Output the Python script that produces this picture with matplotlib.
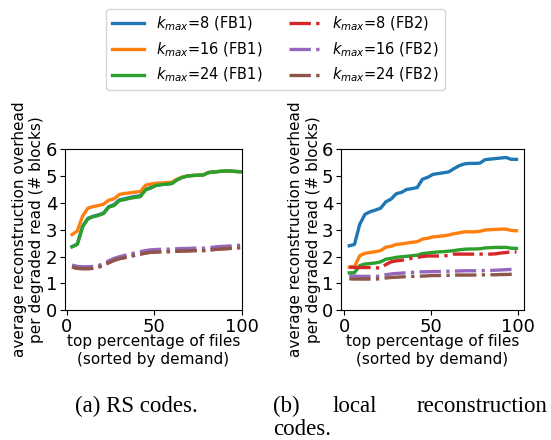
import matplotlib
matplotlib.use("Agg")
import matplotlib.pyplot as plt

# top percentage of files (sorted by demand)
pct = [3, 6, 9, 12, 15, 18, 21, 24, 27, 30, 33, 36, 39, 42, 45, 48, 51,
       54, 57, 60, 63, 66, 69, 72, 75, 78, 81, 84, 87, 90, 93, 96, 99]

labels = [r"$k_{max}$=8 (FB1)", r"$k_{max}$=16 (FB1)", r"$k_{max}$=24 (FB1)",
          r"$k_{max}$=8 (FB2)", r"$k_{max}$=16 (FB2)", r"$k_{max}$=24 (FB2)"]

# (a) RS codes
rs_fb1_k8 = [2.37, 2.46, 3.12, 3.42, 3.50, 3.55, 3.62, 3.86, 3.93, 4.11, 4.15, 4.20, 4.24, 4.26, 4.50, 4.57, 4.66,
             4.68, 4.70, 4.72, 4.86, 4.95, 5.00, 5.02, 5.03, 5.04, 5.13, 5.15, 5.17, 5.18, 5.19, 5.17, 5.16]
rs_fb1_k16 = [2.82, 2.95, 3.50, 3.80, 3.86, 3.90, 3.95, 4.10, 4.15, 4.31, 4.35, 4.37, 4.40, 4.42, 4.66, 4.70, 4.73,
              4.74, 4.75, 4.77, 4.88, 4.96, 5.00, 5.02, 5.03, 5.04, 5.13, 5.15, 5.17, 5.18, 5.19, 5.17, 5.16]
rs_fb1_k24 = [2.36, 2.45, 3.10, 3.40, 3.48, 3.53, 3.60, 3.84, 3.90, 4.08, 4.12, 4.17, 4.20, 4.23, 4.48, 4.55, 4.65,
              4.68, 4.70, 4.72, 4.86, 4.95, 5.00, 5.02, 5.03, 5.04, 5.13, 5.15, 5.17, 5.18, 5.19, 5.17, 5.16]
rs_fb2_k8 = [1.61, 1.56, 1.55, 1.55, 1.56, 1.60, 1.68, 1.77, 1.86, 1.92, 1.96, 2.00, 2.05, 2.09, 2.13, 2.16, 2.17,
             2.18, 2.18, 2.19, 2.20, 2.21, 2.21, 2.22, 2.22, 2.22, 2.24, 2.26, 2.28, 2.29, 2.30, 2.32, 2.33]
rs_fb2_k16 = [1.68, 1.63, 1.62, 1.62, 1.63, 1.66, 1.74, 1.84, 1.93, 1.99, 2.04, 2.09, 2.14, 2.18, 2.22, 2.25, 2.26,
              2.27, 2.27, 2.28, 2.29, 2.30, 2.30, 2.31, 2.31, 2.31, 2.33, 2.35, 2.37, 2.38, 2.39, 2.41, 2.42]
rs_fb2_k24 = [1.61, 1.56, 1.55, 1.55, 1.56, 1.60, 1.68, 1.77, 1.86, 1.92, 1.96, 2.00, 2.05, 2.09, 2.13, 2.16, 2.17,
              2.18, 2.18, 2.19, 2.20, 2.21, 2.21, 2.22, 2.22, 2.22, 2.24, 2.26, 2.28, 2.29, 2.30, 2.32, 2.33]

# (b) local reconstruction codes
lrc_fb1_k8 = [2.40, 2.45, 3.20, 3.57, 3.67, 3.73, 3.80, 4.04, 4.14, 4.34, 4.39, 4.50, 4.53, 4.57, 4.88, 4.95, 5.06,
              5.09, 5.12, 5.15, 5.27, 5.38, 5.45, 5.47, 5.47, 5.48, 5.61, 5.63, 5.65, 5.67, 5.69, 5.62, 5.62]
lrc_fb1_k16 = [1.60, 1.62, 2.03, 2.12, 2.15, 2.18, 2.22, 2.35, 2.38, 2.45, 2.47, 2.50, 2.53, 2.55, 2.65, 2.68, 2.73,
               2.75, 2.77, 2.80, 2.85, 2.88, 2.92, 2.92, 2.92, 2.94, 2.99, 3.00, 3.01, 3.02, 3.02, 2.97, 2.96]
lrc_fb1_k24 = [1.39, 1.40, 1.66, 1.72, 1.74, 1.76, 1.80, 1.90, 1.93, 1.97, 1.99, 2.01, 2.03, 2.05, 2.11, 2.13, 2.15,
               2.17, 2.18, 2.20, 2.22, 2.25, 2.27, 2.28, 2.28, 2.29, 2.32, 2.33, 2.34, 2.34, 2.34, 2.31, 2.30]
lrc_fb2_k8 = [1.61, 1.59, 1.59, 1.59, 1.59, 1.58, 1.57, 1.70, 1.80, 1.84, 1.86, 1.90, 1.94, 1.97, 2.00, 2.02, 2.02,
              2.02, 2.02, 2.04, 2.09, 2.09, 2.09, 2.09, 2.09, 2.09, 2.09, 2.09, 2.10, 2.13, 2.15, 2.17, 2.17]
lrc_fb2_k16 = [1.29, 1.27, 1.26, 1.26, 1.26, 1.26, 1.27, 1.32, 1.35, 1.37, 1.38, 1.40, 1.41, 1.42, 1.43, 1.43, 1.44,
               1.44, 1.45, 1.45, 1.46, 1.46, 1.47, 1.47, 1.47, 1.47, 1.48, 1.48, 1.49, 1.50, 1.51, 1.52, 1.52]
lrc_fb2_k24 = [1.17, 1.16, 1.16, 1.16, 1.16, 1.16, 1.17, 1.20, 1.22, 1.23, 1.24, 1.25, 1.26, 1.27, 1.27, 1.28, 1.29,
               1.29, 1.30, 1.30, 1.31, 1.31, 1.31, 1.31, 1.31, 1.31, 1.32, 1.32, 1.32, 1.33, 1.33, 1.34, 1.34]

colors = ["#1f77b4", "#ff7f0e", "#2ca02c", "#d62728", "#9467bd", "#8c564b"]
styles = ["-", "-", "-", "-.", "-.", "-."]
LW = 2.4

fig = plt.figure(figsize=(5.51, 4.40), dpi=100)
ax1 = fig.add_axes([0.118, 0.295, 0.321, 0.366])
ax2 = fig.add_axes([0.619, 0.295, 0.332, 0.366])

rs = [rs_fb1_k8, rs_fb1_k16, rs_fb1_k24, rs_fb2_k8, rs_fb2_k16, rs_fb2_k24]
lrc = [lrc_fb1_k8, lrc_fb1_k16, lrc_fb1_k24, lrc_fb2_k8, lrc_fb2_k16, lrc_fb2_k24]

handles = []
for i in range(6):
    h, = ax1.plot(pct, rs[i], color=colors[i], linestyle=styles[i], lw=LW, label=labels[i])
    ax2.plot(pct, lrc[i], color=colors[i], linestyle=styles[i], lw=LW)
    handles.append(h)

for ax in (ax1, ax2):
    ax.set_ylim(0, 6)
    ax.set_yticks(range(7))
    ax.set_xticks([0, 50, 100])
    ax.tick_params(labelsize=13, pad=2)
    ax.set_xlabel("top percentage of files\n(sorted by demand)", fontsize=11, labelpad=-1)
    ax.set_ylabel("average reconstruction overhead\nper degraded read (# blocks)", fontsize=11, labelpad=1)
ax1.set_xlim(-1, 100)
ax2.set_xlim(-1.7, 103.3)

fig.legend(handles=handles, ncol=2, loc="upper center", bbox_to_anchor=(0.5, 1.0),
           fontsize=10.5, columnspacing=1.8, handlelength=2.2, labelspacing=0.5,
           borderaxespad=0.6)

# sub-figure captions
cap = dict(family="Liberation Serif", fontsize=16.5, va="center")
fig.text(75 / 551, 1 - 406 / 440, "(a) RS codes.", **cap)
fig.text(273 / 551, 1 - 406 / 440, "(b)", **cap)
fig.text(333 / 551, 1 - 406 / 440, "local", **cap)
fig.text(547 / 551, 1 - 406 / 440, "reconstruction", ha="right", **cap)
fig.text(273 / 551, 1 - 429 / 440, "codes.", **cap)

fig.savefig("out.png", dpi=100)
